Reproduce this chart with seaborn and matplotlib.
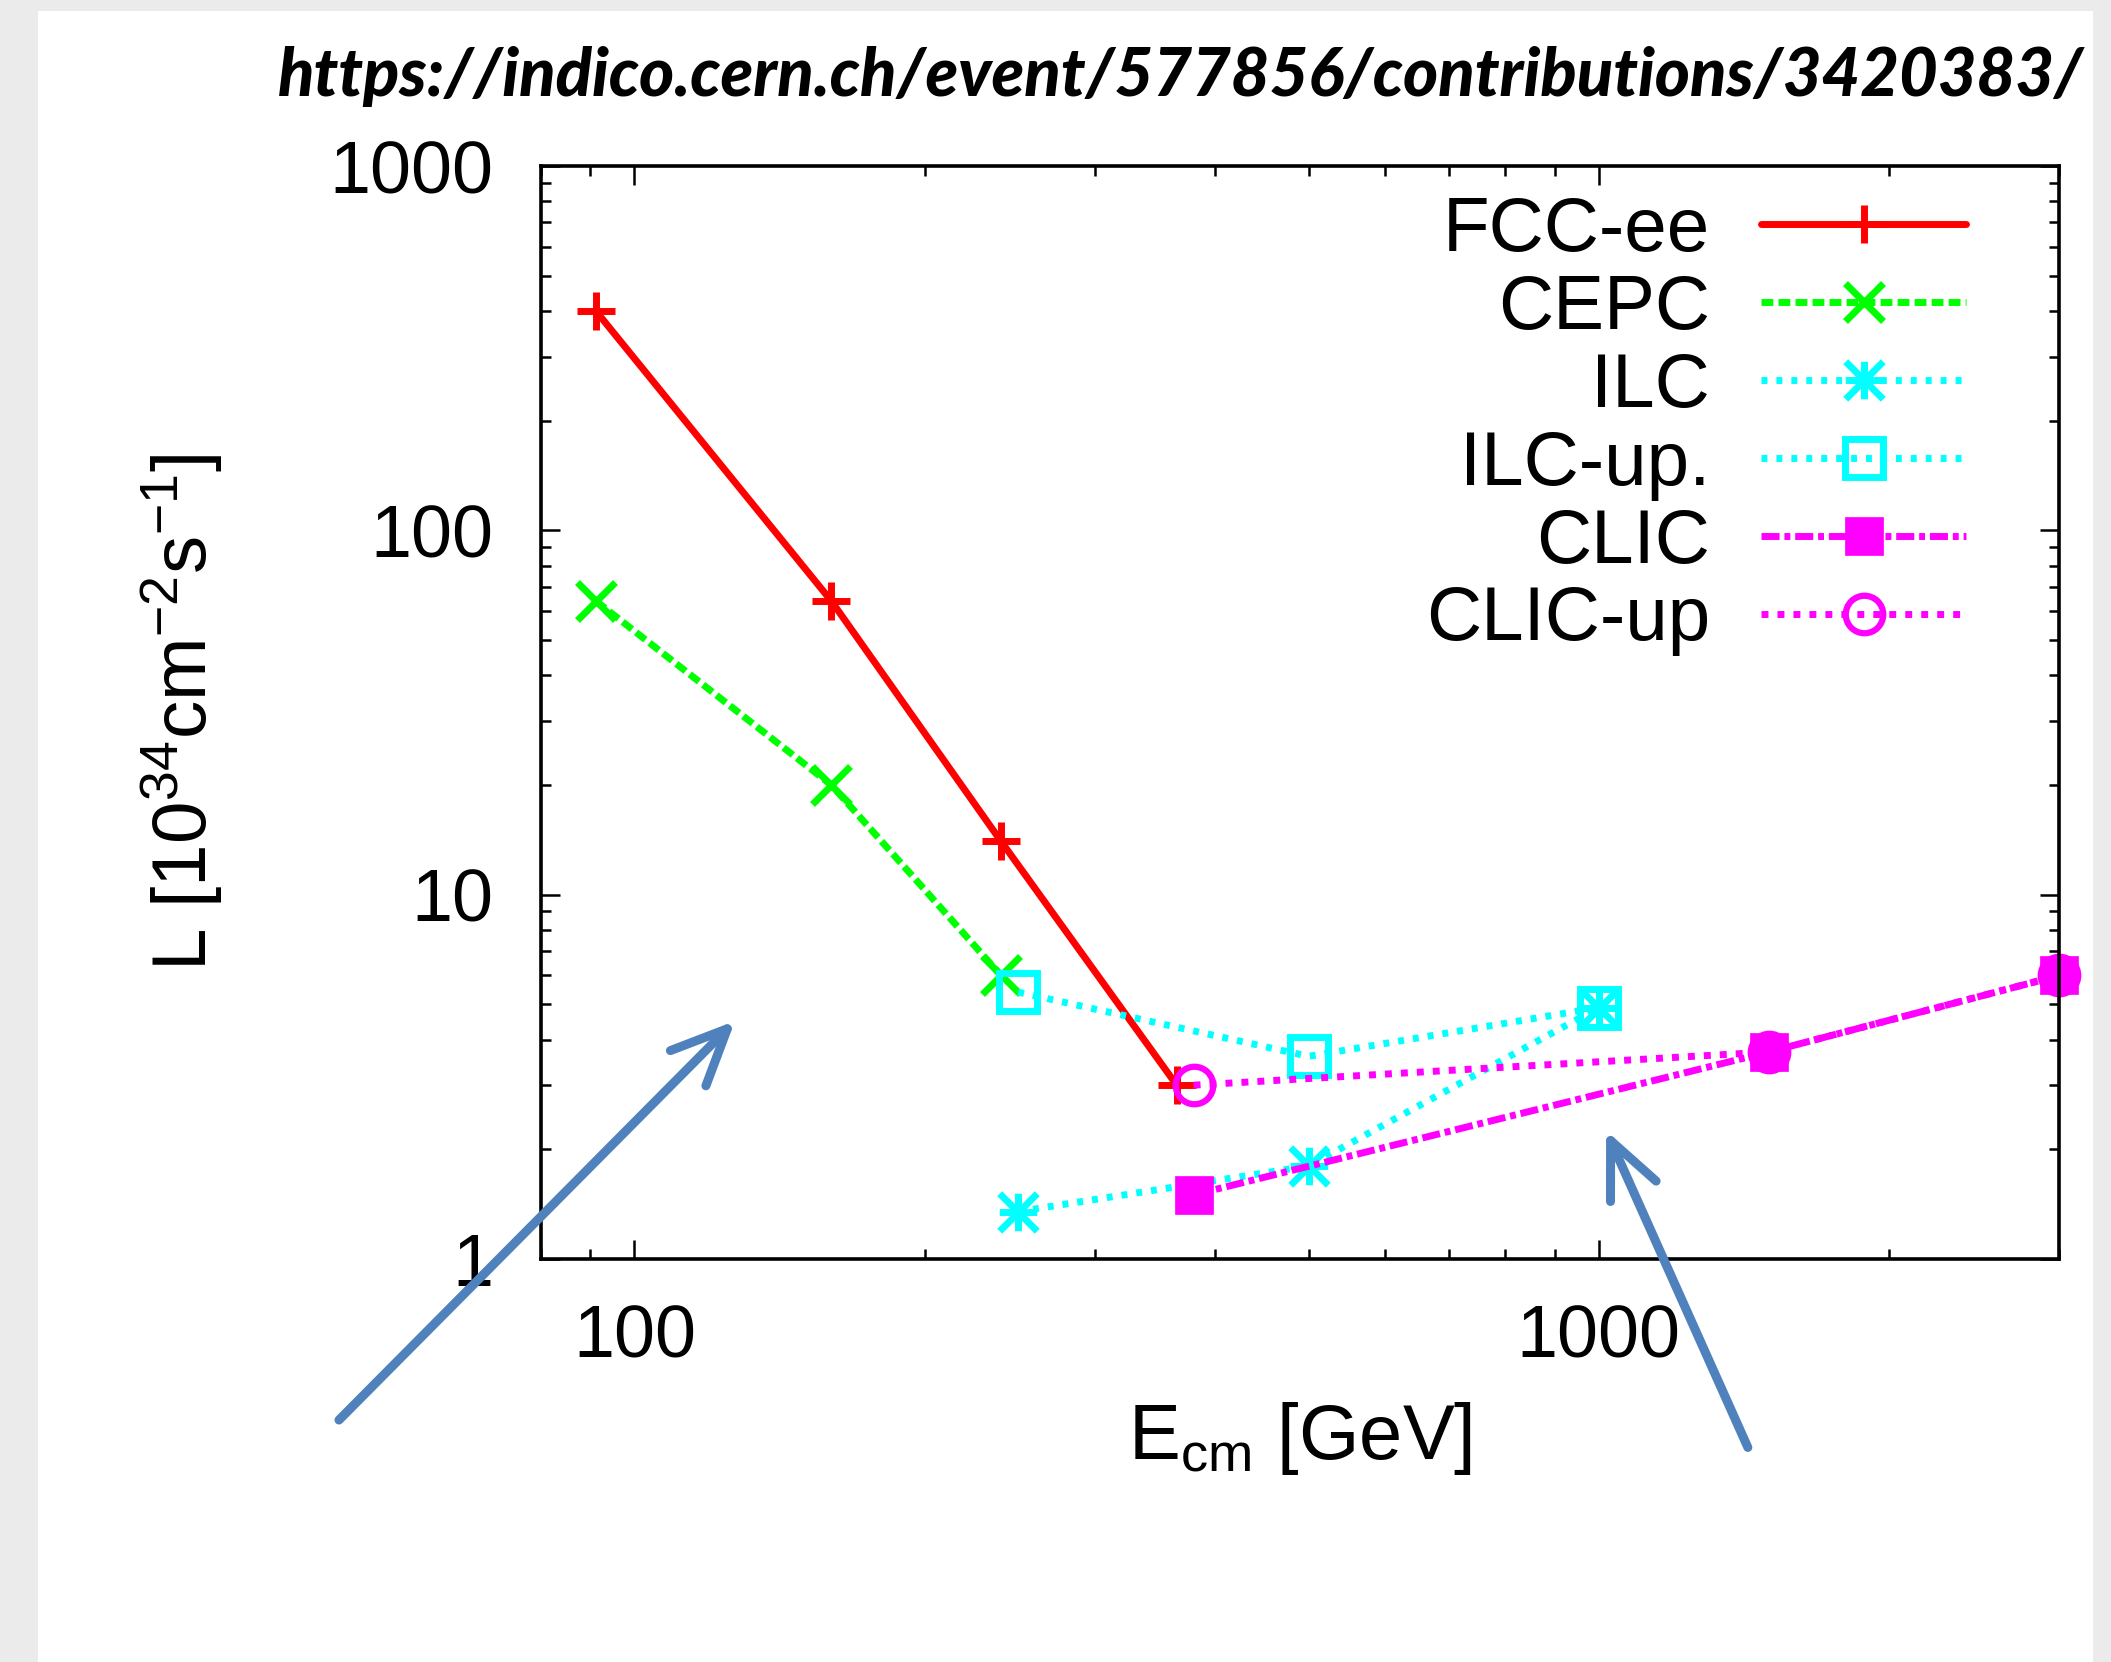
import matplotlib
matplotlib.use("Agg")
import matplotlib.pyplot as plt
import matplotlib.ticker as mticker
from matplotlib.patches import Rectangle, FancyArrowPatch
from matplotlib.path import Path
import seaborn as sns

# ---------------- data ----------------
fcc_x = [91.2, 160, 240, 365]
fcc_y = [400, 64, 14, 3.0]
cepc_x = [91.2, 160, 240]
cepc_y = [64, 20, 6.0]
ilc_x = [250, 500, 1000]
ilc_y = [1.35, 1.8, 4.9]
ilcup_x = [250, 500, 1000]
ilcup_y = [5.4, 3.6, 4.9]
clic_x = [380, 1500, 3000]
clic_y = [1.5, 3.7, 6.0]
clicup_x = [380, 1500, 3000]
clicup_y = [3.0, 3.7, 6.0]
series_labels = ["FCC-ee", "CEPC", "ILC", "ILC-up.", "CLIC", "CLIC-up"]
x_ticks = [100, 1000]
y_ticks = [1, 10, 100, 1000]
url_text = "https://indico.cern.ch/event/577856/contributions/3420383/"
x_label = r"E$_{\mathrm{cm}}$ [GeV]"
y_label = r"L [10$^{34}$cm$^{-2}$s$^{-1}$]"

# ---------------- style ----------------
sns.set_style("white")
plt.rcParams["font.family"] = ["Liberation Sans", "DejaVu Sans"]
plt.rcParams["mathtext.fontset"] = "custom"
plt.rcParams["mathtext.rm"] = "Liberation Sans"
plt.rcParams["mathtext.it"] = "Liberation Sans"
plt.rcParams["mathtext.default"] = "regular"
for k in ["text.color", "axes.labelcolor", "xtick.color", "ytick.color"]:
    plt.rcParams[k] = "black"

W, H, DPI = 2111, 1662, 100
fig = plt.figure(figsize=(W / DPI, H / DPI), dpi=DPI)
fig.patch.set_facecolor("#ebebeb")
fig.add_artist(Rectangle((38 / W, 0), (2093 - 38) / W, 1 - 11 / H,
                         transform=fig.transFigure, facecolor="white",
                         edgecolor="none", zorder=-5))

L, R, T, B = 541, 2059, 166, 1259
ax = fig.add_axes([L / W, 1 - B / H, (R - L) / W, (B - T) / H])
ax.set_facecolor("white")
ax.set_xscale("log")
ax.set_yscale("log")

# gnuplot-like asterisk (plus + cross)
star_path = Path([(-1, 0), (1, 0), (0, -1), (0, 1), (-1, -1), (1, 1), (-1, 1), (1, -1)],
                 [Path.MOVETO, Path.LINETO] * 4)

RED, GREEN, CYAN, MAG = "#ff0000", "#00ff00", "#00ffff", "#ff00ff"
LW = 5.0
MS = 27
common = dict(ax=ax, lw=LW, errorbar=None, clip_on=False, markersize=MS)

sns.lineplot(x=fcc_x, y=fcc_y, color=RED, linestyle="-", marker="+",
             markeredgecolor=RED, markeredgewidth=5, label=series_labels[0], **common)
sns.lineplot(x=cepc_x, y=cepc_y, color=GREEN, linestyle=(0, (1.7, 0.75)), marker="x",
             markeredgecolor=GREEN, markeredgewidth=5, label=series_labels[1], **common)
sns.lineplot(x=ilc_x, y=ilc_y, color=CYAN, linestyle=(0, (0.85, 1.3)), marker=star_path,
             markeredgecolor=CYAN, markeredgewidth=5, label=series_labels[2], **common)
sns.lineplot(x=ilcup_x, y=ilcup_y, color=CYAN, linestyle=(0, (0.85, 1.3)), marker="s",
             markerfacecolor="none", markeredgecolor=CYAN, markeredgewidth=5,
             label=series_labels[3], **common)
sns.lineplot(x=clic_x, y=clic_y, color=MAG, linestyle=(0, (2.6, 0.7, 0.85, 0.7)), marker="s",
             markerfacecolor=MAG, markeredgecolor=MAG, markeredgewidth=0.5,
             label=series_labels[4], **common)
sns.lineplot(x=clicup_x, y=clicup_y, color=MAG, linestyle=(0, (1.0, 1.3)), marker="o",
             markerfacecolor="none", markeredgecolor=MAG, markeredgewidth=4.5,
             label=series_labels[5], **common)

ax.set_xlim(80, 3000)
ax.set_ylim(1, 1000)
ax.xaxis.set_major_locator(mticker.FixedLocator(x_ticks))
ax.yaxis.set_major_locator(mticker.FixedLocator(y_ticks))
ax.xaxis.set_minor_locator(mticker.LogLocator(base=10, subs=range(2, 10)))
ax.yaxis.set_minor_locator(mticker.LogLocator(base=10, subs=range(2, 10)))
fmt = mticker.FuncFormatter(lambda v, p: f"{v:g}")
ax.xaxis.set_major_formatter(fmt)
ax.yaxis.set_major_formatter(fmt)
ax.xaxis.set_minor_formatter(mticker.NullFormatter())
ax.yaxis.set_minor_formatter(mticker.NullFormatter())

ax.tick_params(which="both", direction="in", top=True, right=True, bottom=True, left=True,
               color="black", width=1.8)
ax.tick_params(which="major", length=13.5, labelsize=53)
ax.tick_params(which="minor", length=7)
ax.tick_params(axis="x", which="major", pad=32)
ax.tick_params(axis="y", which="major", pad=34)
for s in ax.spines.values():
    s.set_visible(True)
    s.set_color("black")
    s.set_linewidth(2.6)

ax.set_xlabel(x_label, fontsize=56)
ax.set_ylabel(y_label, fontsize=55)
ax.xaxis.set_label_coords(0.5, -0.129)
ax.yaxis.set_label_coords(-0.208, 0.5)

leg = ax.legend(loc="upper right", bbox_to_anchor=((1966 - L) / (R - L), 1 - 30 / (B - T)),
                frameon=False, fontsize=55, markerfirst=False, numpoints=1,
                handlelength=2.68, handletextpad=0.67, labelspacing=0.09,
                borderpad=0, borderaxespad=0)

# URL text
fig.text(2084 / W, 1 - 96 / H, url_text, ha="right", va="baseline",
         fontsize=48.2, fontstyle="italic", fontweight="black",
         family=["Lato", "DejaVu Sans"])

# blue arrows
BLUE = "#4f81bd"
for (x0, y0), (x1, y1) in [((337, 1422), (737, 1019)), ((1749, 1450), (1605, 1128))]:
    arr = FancyArrowPatch((x0 / W, 1 - y0 / H), (x1 / W, 1 - y1 / H),
                          transform=fig.transFigure,
                          arrowstyle="->,head_length=4.0,head_width=1.8",
                          mutation_scale=10, color=BLUE, lw=6.5, capstyle="round",
                          joinstyle="round", zorder=20)
    fig.add_artist(arr)

fig.savefig("out.png", dpi=DPI, facecolor=fig.get_facecolor())
